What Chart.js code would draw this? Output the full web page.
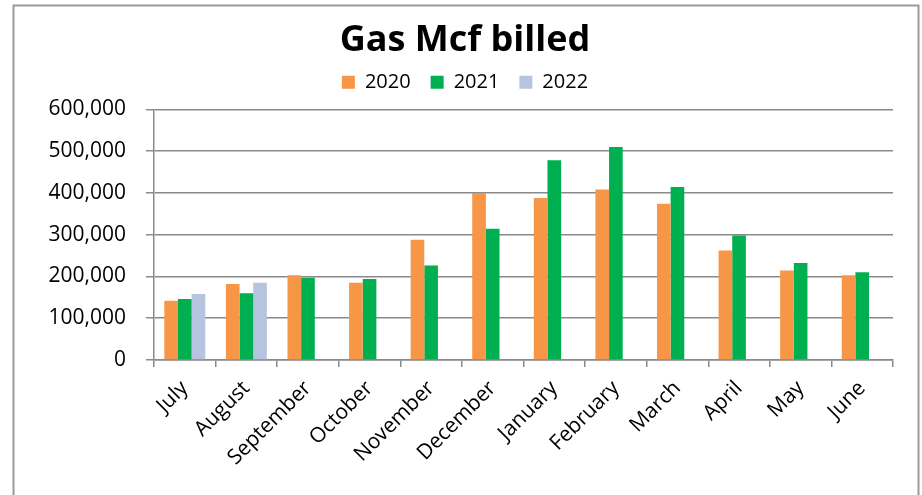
<!DOCTYPE html>
<html>
<head>
<meta charset="utf-8">
<script src="https://cdn.jsdelivr.net/npm/chart.js@4.4.1/dist/chart.umd.min.js"></script>
<style>
  html, body { margin: 0; padding: 0; background: #fff; }
  #wrap { width: 922px; height: 495px; }
</style>
</head>
<body>
<div id="wrap"><canvas id="chart" width="922" height="495"></canvas></div>
<script>
// Gas Mcf billed - fiscal year July..June
const months = ["July", "August", "September", "October", "November", "December",
                "January", "February", "March", "April", "May", "June"];
const mcf2020 = [142000, 182000, 203000, 185000, 288000, 400000, 388000, 408000, 374000, 262000, 214000, 203000];
const mcf2021 = [146000, 160000, 197000, 194000, 226000, 314000, 478000, 510000, 414000, 298000, 232000, 210000];
const mcf2022 = [158000, 185000, null, null, null, null, null, null, null, null, null, null];
const yTicks = [0, 100000, 200000, 300000, 400000, 500000, 600000];

const FONT = "'Open Sans', 'Liberation Sans', sans-serif";
const GRID = "#8a8a8a";

// outer frame like the spreadsheet chart box
const frame = {
    id: "frame",
    afterDraw(chart) {
        const c = chart.ctx;
        c.save();
        c.strokeStyle = "#9a9a9a";
        c.lineWidth = 2;
        c.strokeRect(13.5, 5.5, 905, 600);
        c.restore();
    }
};

new Chart(document.getElementById("chart"), {
    type: "bar",
    data: {
        labels: months,
        datasets: [
            { label: "2020", data: mcf2020, backgroundColor: "#F79646" },
            { label: "2021", data: mcf2021, backgroundColor: "#00B050" },
            { label: "2022", data: mcf2022, backgroundColor: "#B7C4DF" }
        ]
    },
    options: {
        responsive: false,
        animation: false,
        layout: { padding: { top: 2, right: 29, bottom: 0, left: 37 } },
        datasets: { bar: { categoryPercentage: 0.665, barPercentage: 1, borderWidth: 0 } },
        plugins: {
            title: {
                display: true,
                text: "Gas Mcf billed",
                color: "#000",
                font: { family: FONT, size: 36, weight: "bold" },
                padding: { top: 17, bottom: -10 }
            },
            // empty spacer between legend and plot
            subtitle: {
                display: true,
                text: "",
                weight: 500,
                font: { size: 1 },
                padding: { top: 0, bottom: 6 }
            },
            legend: {
                position: "top",
                labels: {
                    color: "#000",
                    font: { family: FONT, size: 20 },
                    boxWidth: 13,
                    boxHeight: 13,
                    padding: 20
                }
            },
            tooltip: { enabled: false }
        },
        scales: {
            x: {
                grid: { display: true, drawOnChartArea: false, drawTicks: true, tickLength: 7, color: GRID, lineWidth: 1.5 },
                border: { color: GRID, width: 1.5 },
                ticks: {
                    color: "#000",
                    font: { family: FONT, size: 21 },
                    maxRotation: 45,
                    minRotation: 45,
                    autoSkip: false,
                    padding: 9
                },
                afterFit(scale) { scale.height = 135; }
            },
            y: {
                min: 0,
                max: 600000,
                afterBuildTicks(scale) { scale.ticks = yTicks.map(v => ({ value: v })); },
                grid: { color: GRID, lineWidth: 1.5, tickLength: 8 },
                border: { color: GRID, width: 1.5 },
                ticks: {
                    color: "#000",
                    font: { family: FONT, size: 21 },
                    padding: 20,
                    callback: v => v.toLocaleString("en-US")
                },
                afterFit(scale) { scale.width = 117; }
            }
        }
    },
    plugins: [frame]
});
</script>
</body>
</html>
